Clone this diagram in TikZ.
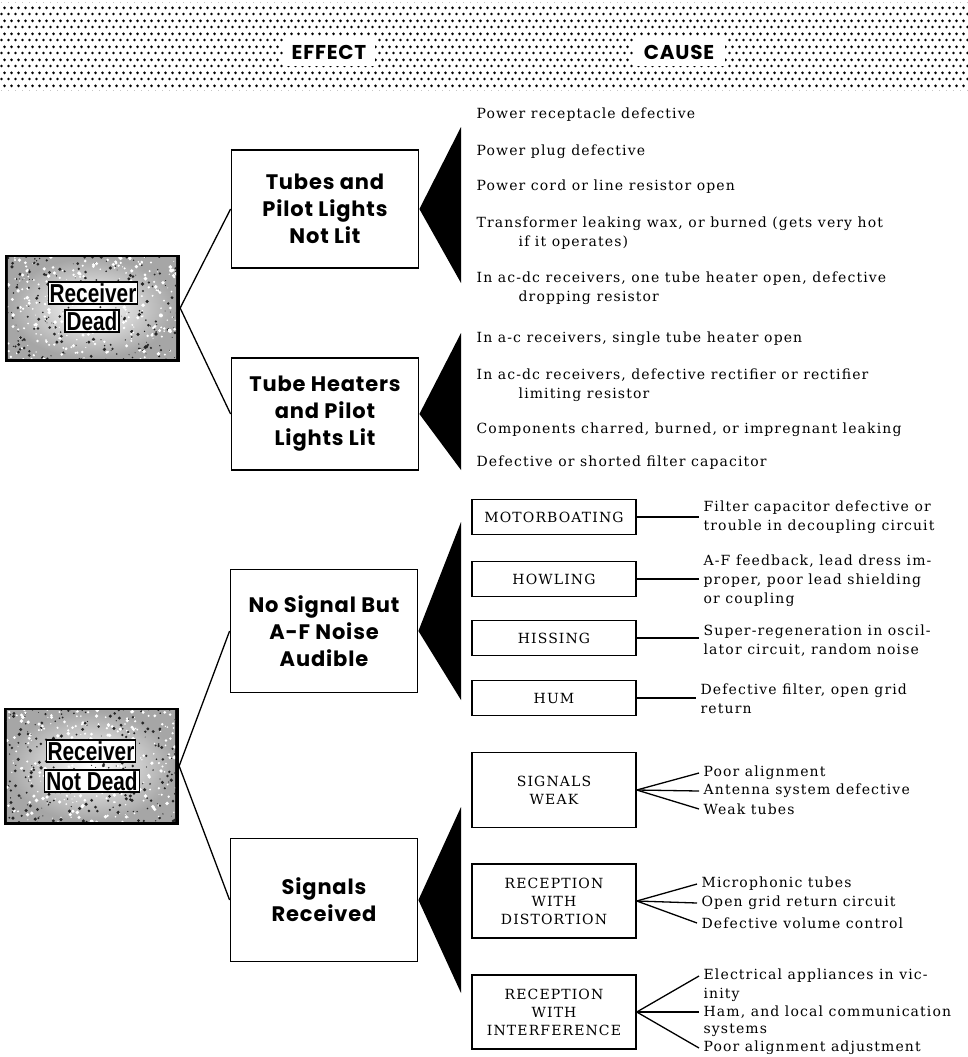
\documentclass[tikz,border=0pt]{standalone}
\usepackage{fontspec}
\newfontfamily\causefont{DejaVu Serif}[LetterSpace=8]
\newfontfamily\headfont{Poppins}[LetterSpace=4]
\newfontfamily\stampfont{Liberation Sans}[UprightFont={* Bold},FakeStretch=0.8]
\usetikzlibrary{patterns.meta,calc}

\tikzdeclarepattern{
  name=halftone,
  type=uncolored,
  bounding box={(0pt,0pt) and (6.5pt,13pt)},
  tile size={(6.5pt,13pt)},
  code={
    \fill (1.6pt,3.25pt) circle (1.5pt);
    \fill (4.85pt,9.75pt) circle (1.5pt);
  }
}

\begin{document}
\begin{tikzpicture}[x=1pt,y=-1pt,line width=1.3pt,
  effectbox/.style={draw,line width=1.8pt,minimum width=187,minimum height=118,align=center,
    font=\headfont\bfseries\fontsize{21}{27}\selectfont},
  faultbox/.style={draw,line width=1.5pt,minimum width=164,minimum height=35,align=center,
    font=\causefont\fontsize{14}{18}\selectfont},
  causetext/.style={anchor=west,align=left,inner sep=4pt,
    font=\causefont\fontsize{14}{19}\selectfont},
  grunge/.style={fill=black,minimum width=175,minimum height=107,inner sep=0pt},
  stamp/.style={fill=white,draw,line width=1.2pt,inner sep=1.5pt,
    font=\stampfont\fontsize{26}{27}\selectfont},
  tag/.style={fill=white,minimum width=92,minimum height=29,inner sep=0pt,
    font=\headfont\bfseries\fontsize{20}{20}\selectfont}]
\useasboundingbox (0,0) rectangle (968,1057);

% header band
\fill[pattern=halftone] (0,3) rectangle (968,90);
\node[tag] (effect) at (329,52) {EFFECT};
\node[tag] (cause) at (679,52) {CAUSE};

% receiver boxes
\node[grunge] (rdead) at (92,308) {};
\node[grunge,minimum height=117] (rnotdead) at (91,766) {};
\pgfmathsetseed{42}
\foreach \b in {rdead,rnotdead}{
  \shade[inner color=white,outer color=gray!70]
    ([shift={(4,4)}]\b.north west) rectangle ([shift={(-4,-4)}]\b.south east);
  \begin{scope}
    \clip ([shift={(4,4)}]\b.north west) rectangle ([shift={(-4,-4)}]\b.south east);
    \foreach \i in {1,...,300}{
      \fill[black!85] ($(\b.north west)+(rnd*175,rnd*117)$) circle (0.4+rnd*1.4);
      \fill[white] ($(\b.north west)+(rnd*175,rnd*117)$) circle (0.5+rnd*1.5);
    }
  \end{scope}
}
\node[stamp] (dead1) at (93,293) {Receiver};
\node[stamp] (dead2) at (92,321) {Dead};
\node[stamp] (live1) at (91,751) {Receiver};
\node[stamp] (live2) at (92,781) {Not Dead};

% effects
\node[effectbox] (tubes) at (325,209) {Tubes and\\Pilot Lights\\Not Lit};
\node[effectbox,minimum height=112] (heaters) at (325,414) {Tube Heaters\\and Pilot\\Lights Lit};
\node[effectbox,minimum height=123] (nosignal) at (324,631) {No Signal But\\A-F Noise\\Audible};
\node[effectbox,minimum height=123] (received) at (324,900) {Signals\\Received};

\draw (rdead.east) -- (tubes.west);
\draw (rdead.east) -- (heaters.west);
\draw (rnotdead.east) -- (nosignal.west);
\draw (rnotdead.east) -- (received.west);

\fill (tubes.east) -- (461,127) -- (461,283) -- cycle;
\fill (heaters.east) -- (461,333) -- (461,470) -- cycle;
\fill (nosignal.east) -- (461,522) -- (461,700) -- cycle;
\fill (received.east) -- (461,807) -- (461,993) -- cycle;

% causes, receiver dead
\foreach \y/\t [count=\n] in {115/{Power receptacle defective},
  152/{Power plug defective},
  187/{Power cord or line resistor open},
  233/{Transformer leaking wax, or burned (gets very hot\\\hspace*{42pt}if it operates)},
  288/{In ac-dc receivers, one tube heater open, defective\\\hspace*{42pt}dropping resistor},
  339/{In a-c receivers, single tube heater open},
  385/{In ac-dc receivers, defective rectifier or rectifier\\\hspace*{42pt}limiting resistor},
  430/{Components charred, burned, or impregnant leaking},
  463/{Defective or shorted filter capacitor}}
  \node[causetext] (cause\n) at (472,\y) {\t};

% noise
\node[faultbox] (motor) at (554,517) {MOTORBOATING};
\node[faultbox] (howl) at (554,579) {HOWLING};
\node[faultbox] (hiss) at (554,638) {HISSING};
\node[faultbox] (hum) at (554,698) {HUM};
\node[causetext] (motorc) at (699,517) {Filter capacitor defective or\\trouble in decoupling circuit};
\node[causetext] (howlc) at (699,581) {A-F feedback, lead dress im-\\proper, poor lead shielding\\or coupling};
\node[causetext] (hissc) at (699,641) {Super-regeneration in oscil-\\lator circuit, random noise};
\node[causetext] (humc) at (696,699) {Defective filter, open grid\\return};
\foreach \f in {motor,howl,hiss,hum}
  \draw (\f.east) -- (\f.east -| \f c.west);

% signals received
\node[faultbox,minimum height=75] (weak) at (554,790) {SIGNALS\\WEAK};
\node[faultbox,minimum height=74] (distort) at (554,901) {RECEPTION\\WITH\\DISTORTION};
\node[faultbox,minimum height=74] (interf) at (554,1012) {RECEPTION\\WITH\\INTERFERENCE};

\node[causetext] (weak1) at (699,773) {Poor alignment};
\node[causetext] (weak2) at (699,791) {Antenna system defective};
\node[causetext] (weak3) at (699,809) {Weak tubes};
\node[causetext] (distort1) at (697,884) {Microphonic tubes};
\node[causetext] (distort2) at (697,903) {Open grid return circuit};
\node[causetext] (distort3) at (697,923) {Defective volume control};
\node[causetext] (interf1) at (699,976) {Electrical appliances in vic-};
\node[causetext] (interf1b) at (699,995) {inity};
\node[causetext] (interf2) at (699,1012) {Ham, and local communication};
\node[causetext] (interf2b) at (699,1030) {systems};
\node[causetext] (interf3) at (699,1048) {Poor alignment adjustment};
\foreach \f in {weak,distort,interf}
  \foreach \n in {1,2,3}
    \draw (\f.east) -- (\f\n.west);
\end{tikzpicture}
\end{document}
